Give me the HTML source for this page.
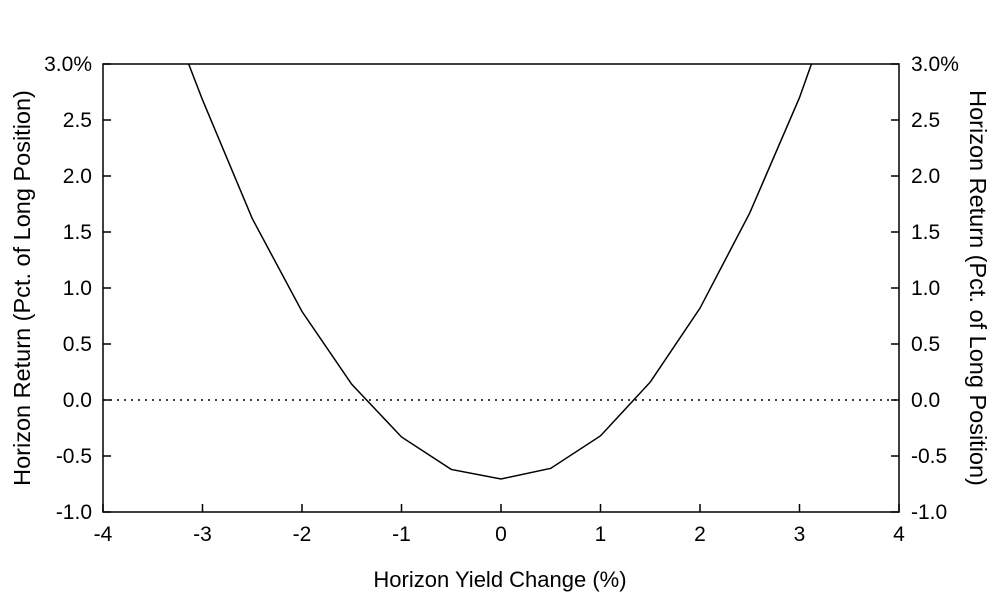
<!DOCTYPE html>
<html><head><meta charset="utf-8"><style>
body{margin:0;background:#fff}
svg text{font-family:"Liberation Sans",sans-serif;font-size:21px;fill:#000}
svg text.t{font-size:22px}
svg text.ty{font-size:23.5px}
</style></head><body>
<svg width="1004" height="601">
<defs><clipPath id="pc"><rect x="103" y="64" width="796" height="448"/></clipPath></defs>
<g id="axes"></g>
<g id="marks" clip-path="url(#pc)"></g>
<text class="t" x="500" y="587" text-anchor="middle">Horizon Yield Change (%)</text>
<text class="ty" transform="translate(30,288) rotate(-90)" text-anchor="middle">Horizon Return (Pct. of Long Position)</text>
<text class="ty" transform="translate(970,288) rotate(90)" text-anchor="middle">Horizon Return (Pct. of Long Position)</text>
</svg>
<script>
const xs=[-3.5,-3,-2.5,-2,-1.5,-1,-0.5,0,0.5,1,1.5,2,2.5,3,3.5];
const ys=[3.83,2.68,1.62,0.79,0.14,-0.33,-0.62,-0.705,-0.61,-0.32,0.16,0.82,1.67,2.7,3.95];
const xTicks=[-4,-3,-2,-1,0,1,2,3,4];
const yTicks=[-1,-0.5,0,0.5,1,1.5,2,2.5,3];
const yLabels=["-1.0","-0.5","0.0","0.5","1.0","1.5","2.0","2.5","3.0%"];
const NS="http://www.w3.org/2000/svg";
const X=v=>103+(v+4)*99.5, Y=v=>512-(v+1)*112;
function mk(t,a,p){const e=document.createElementNS(NS,t);for(const k in a)e.setAttribute(k,a[k]);p.appendChild(e);return e;}
const ax=document.getElementById('axes'),mg=document.getElementById('marks');
const fr=mk('rect',{x:103,y:64,width:796,height:448,fill:'none',stroke:'#000','stroke-width':1.5},ax);


xTicks.forEach(v=>{
 mk('line',{x1:X(v),x2:X(v),y1:512,y2:504,stroke:'#000','stroke-width':1.5},ax);
 const t=mk('text',{x:X(v),y:541,'text-anchor':'middle'},ax);t.textContent=v;
 
 
});
yTicks.forEach((v,i)=>{
 mk('line',{x1:103,x2:111,y1:Y(v),y2:Y(v),stroke:'#000','stroke-width':1.5},ax);
 mk('line',{x1:891,x2:899,y1:Y(v),y2:Y(v),stroke:'#000','stroke-width':1.5},ax);
 const t=mk('text',{x:92,y:Y(v)+7,'text-anchor':'end'},ax);t.textContent=yLabels[i];
 
 
 const t2=mk('text',{x:911,y:Y(v)+7,'text-anchor':'start'},ax);t2.textContent=yLabels[i];
 
 
});
const zl=mk('line',{x1:103,x2:899,y1:Y(0),y2:Y(0),stroke:'#000','stroke-width':1.5,'stroke-dasharray':'2,5'},ax);


const pl=mk('polyline',{points:xs.map((x,i)=>X(x)+','+Y(ys[i])).join(' '),fill:'none',stroke:'#000','stroke-width':1.5},mg);


</script>
</body></html>
